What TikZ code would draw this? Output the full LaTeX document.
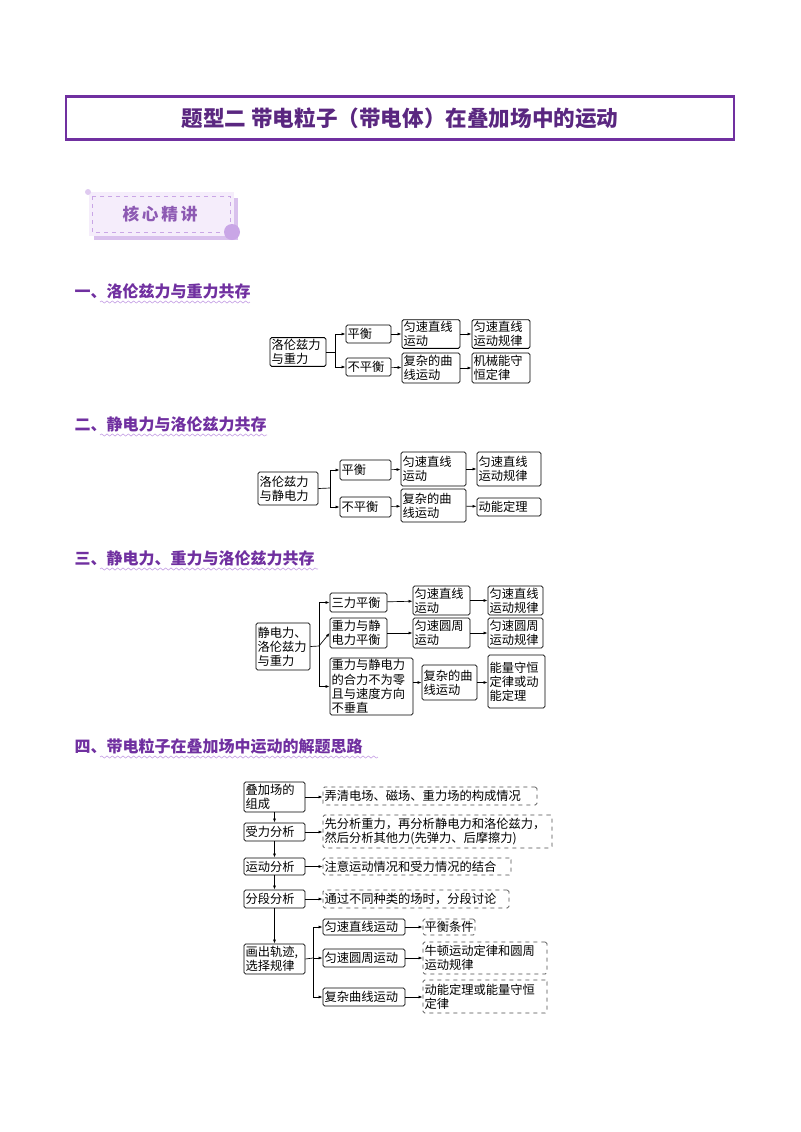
\documentclass[tikz,border=0pt]{standalone}
\usepackage{fontspec}
\setmainfont{Noto Sans CJK SC}
\usetikzlibrary{decorations.pathmorphing,arrows.meta}
\definecolor{pur}{HTML}{7030A0}
\definecolor{lpur}{HTML}{C9A6E6}
\definecolor{bg}{HTML}{F5EDFB}
\newcommand{\bx}[7][sbox]{\node[#1,text width={(#5-#3)*0.75pt-2.4pt},minimum height={(#6-#4)*0.75pt}] (#2) at ({(#3+#5)/2},{(#4+#6)/2}) {#7};}
\tikzset{
 sbox/.style={draw,rounded corners=1.2pt,inner sep=1.2pt,font=\fontsize{9.2}{10.6}\selectfont,align=left,line width=0.6pt},
 dbox/.style={sbox,dashed,draw=black!70},
 arr/.style={-{Latex[length=3pt,width=2.2pt]},line width=0.5pt},
 ln/.style={line width=0.5pt},
 head/.style={anchor=west,font=\fontsize{12}{14}\selectfont\bfseries,text=pur},
 wave/.style={draw=lpur,line width=0.5pt,decorate,decoration={snake,amplitude=0.8pt,segment length=4pt}}
}
\begin{document}
\begin{tikzpicture}[x=0.75pt,y=-0.75pt]
\useasboundingbox (0,0) rectangle (800,1132);
% title
\node[draw=pur,line width=1.8pt,minimum width={668*0.75pt},minimum height={43*0.75pt},font=\fontsize{16.2}{18}\selectfont\bfseries,text=pur!80!black] (title) at (400,118) {题型二\ 带电粒子（带电体）在叠加场中的运动};
% badge
\fill[lpur!70] (94,198) rectangle (238,240);
\node[fill=bg,minimum width={145*0.75pt},minimum height={44*0.75pt}] (badge) at (161,214) {};
\draw[lpur,dashed,line width=0.6pt] (92,196) rectangle (230,232);
\node[font=\fontsize{12.5}{14}\selectfont\bfseries,text=pur!80] (badget) at (160,214) {核\,心\,精\,讲};
\fill[lpur] (232,232) circle (8);
\fill[lpur!60] (88,192) circle (3);
% headings
\node[head] (h1) at (70,291) {一、洛伦兹力与重力共存};
\draw[wave] (100,302) -- (250,302);
\node[head] (h2) at (70,424) {二、静电力与洛伦兹力共存};
\draw[wave] (100,435) -- (267,435);
\node[head] (h3) at (70,558) {三、静电力、重力与洛伦兹力共存};
\draw[wave] (100,569) -- (318,569);
\node[head] (h4) at (70,746) {四、带电粒子在叠加场中运动的解题思路};
\draw[wave] (100,757) -- (378,757);
% diagram 1
\bx{a0}{270}{338}{326}{366}{洛伦兹力\\与重力}
\bx{a1}{346}{325}{391}{343}{平衡}
\bx{a2}{402}{320}{460}{348}{匀速直线\\运动}
\bx{a3}{472}{320}{530}{348}{匀速直线\\运动规律}
\bx{a4}{346}{358}{391}{376}{不平衡}
\bx{a5}{402}{353}{460}{383}{复杂的曲\\线运动}
\bx{a6}{472}{353}{530}{383}{机械能守\\恒定律}
\coordinate (ja) at (335,352);
\draw[ln] (a0.east) -- (ja);
\draw[arr] (ja) |- (a1.west);
\draw[arr] (ja) |- (a4.west);
\draw[arr] (a1) -- (a2); \draw[arr] (a2) -- (a3);
\draw[arr] (a4) -- (a5); \draw[arr] (a5) -- (a6);
% diagram 2
\bx{b0}{258}{472}{318}{505}{洛伦兹力\\与静电力}
\bx{b1}{340}{460}{391}{480}{平衡}
\bx{b2}{401}{452}{466}{486}{匀速直线\\运动}
\bx{b3}{477}{452}{541}{486}{匀速直线\\运动规律}
\bx{b4}{340}{497}{391}{517}{不平衡}
\bx{b5}{401}{489}{466}{522}{复杂的曲\\线运动}
\bx{b6}{477}{498}{541}{516}{动能定理}
\coordinate (jb) at (330,488);
\draw[ln] (b0.east) -- (jb);
\draw[arr] (jb) |- (b1.west);
\draw[arr] (jb) |- (b4.west);
\draw[arr] (b1) -- (b2); \draw[arr] (b2) -- (b3);
\draw[arr] (b4) -- (b5); \draw[arr] (b5) -- (b6);
% diagram 3
\bx{c0}{256}{623}{310}{670}{静电力、\\洛伦兹力\\与重力}
\bx{c1}{330}{593}{387}{612}{三力平衡}
\bx{c2}{413}{586}{470}{615}{匀速直线\\运动}
\bx{c3}{488}{586}{543}{615}{匀速直线\\运动规律}
\bx{c4}{330}{618}{387}{648}{重力与静\\电力平衡}
\bx{c5}{413}{618}{470}{648}{匀速圆周\\运动}
\bx{c6}{488}{618}{543}{648}{匀速圆周\\运动规律}
\bx{c7}{330}{658}{413}{715}{重力与静电力\\的合力不为零\\且与速度方向\\不垂直}
\bx{c8}{422}{665}{477}{700}{复杂的曲\\线运动}
\bx{c9}{488}{655}{545}{708}{能量守恒\\定律或动\\能定理}
\coordinate (jc) at (319,646);
\draw[ln] (c0.east) -- (jc);
\draw[arr] (jc) |- (c1.west);
\draw[arr] (jc) -- (c4.west);
\draw[arr] (jc) |- (c7.west);
\draw[arr] (c1) -- (c2); \draw[arr] (c2) -- (c3);
\draw[arr] (c4) -- (c5); \draw[arr] (c5) -- (c6);
\draw[arr] (c7.east|-c8) -- (c8); \draw[arr] (c8) -- (c9.west|-c8);
% diagram 4
\bx{d0}{244}{782}{305}{812}{叠加场的\\组成}
\bx{d1}{244}{823}{305}{841}{受力分析}
\bx{d2}{244}{858}{305}{875}{运动分析}
\bx{d3}{244}{890}{305}{908}{分段分析}
\bx{d4}{244}{944}{305}{974}{画出轨迹,\\选择规律}
\bx[dbox]{e0}{323}{787}{537}{805}{弄清电场、磁场、重力场的构成情况}
\bx[dbox]{e1}{323}{815}{552}{848}{先分析重力，再分析静电力和洛伦兹力，\\然后分析其他力(先弹力、后摩擦力)}
\bx[dbox]{e2}{323}{858}{511}{875}{注意运动情况和受力情况的结合}
\bx[dbox]{e3}{323}{890}{509}{908}{通过不同种类的场时，分段讨论}
\bx{f1}{323}{919}{405}{935}{匀速直线运动}
\bx{f2}{323}{949}{405}{967}{匀速圆周运动}
\bx{f3}{323}{988}{405}{1006}{复杂曲线运动}
\bx[dbox]{g1}{423}{919}{475}{935}{平衡条件}
\bx[dbox]{g2}{423}{942}{547}{974}{牛顿运动定律和圆周\\运动规律}
\bx[dbox]{g3}{423}{980}{547}{1013}{动能定理或能量守恒\\定律}
\draw[arr] (d0) -- (d1); \draw[arr] (d1) -- (d2); \draw[arr] (d2) -- (d3); \draw[arr] (d3) -- (d4);
\draw[arr] (d0.east) -- (d0.east-|e0.west);
\draw[arr] (d1) -- (d1-|e1.west);
\draw[arr] (d2) -- (e2); \draw[arr] (d3) -- (e3);
\coordinate (jd) at (313,958);
\draw[ln] (d4.east) -- (jd);
\draw[arr] (jd) |- (f1.west);
\draw[arr] (jd) -- (f2.west);
\draw[arr] (jd) |- (f3.west);
\draw[arr] (f1) -- (g1); \draw[arr] (f2) -- (f2-|g2.west); \draw[arr] (f3) -- (f3-|g3.west);
\end{tikzpicture}
\end{document}
